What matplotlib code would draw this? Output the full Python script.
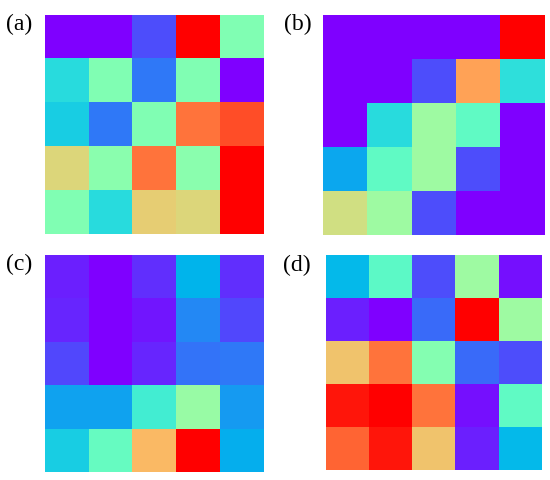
import numpy as np
import matplotlib
matplotlib.use("Agg")
import matplotlib.pyplot as plt

panel_labels = ["(a)", "(b)", "(c)", "(d)"]

grid_a = [
    [0.00, 0.00, 0.10, 1.00, 0.50],
    [0.33, 0.50, 0.16, 0.50, 0.00],
    [0.30, 0.16, 0.50, 0.85, 0.90],
    [0.68, 0.52, 0.85, 0.52, 1.00],
    [0.50, 0.33, 0.70, 0.68, 1.00],
]
grid_b = [
    [0.00, 0.00, 0.00, 0.00, 1.00],
    [0.00, 0.00, 0.10, 0.78, 0.34],
    [0.00, 0.33, 0.56, 0.44, 0.00],
    [0.23, 0.44, 0.56, 0.10, 0.00],
    [0.66, 0.56, 0.10, 0.00, 0.00],
]
grid_c = [
    [0.04, 0.00, 0.06, 0.25, 0.06],
    [0.05, 0.00, 0.03, 0.18, 0.09],
    [0.09, 0.00, 0.05, 0.15, 0.16],
    [0.22, 0.22, 0.38, 0.55, 0.21],
    [0.30, 0.45, 0.74, 1.00, 0.24],
]
grid_d = [
    [0.26, 0.43, 0.10, 0.56, 0.02],
    [0.04, 0.00, 0.14, 1.00, 0.56],
    [0.72, 0.85, 0.51, 0.14, 0.10],
    [0.97, 1.00, 0.85, 0.02, 0.44],
    [0.87, 0.97, 0.72, 0.04, 0.26],
]
grids = [grid_a, grid_b, grid_c, grid_d]

W, H = 550, 480
fig = plt.figure(figsize=(W / 100, H / 100), dpi=100)

# axes boxes in pixels: left, top, right, bottom
boxes = [
    (45, 15, 264, 234),
    (323, 15, 545, 235),
    (45, 255, 264, 472),
    (326, 255, 542, 470),
]
label_pos = [(6, 24), (284, 24), (6, 264), (283, 265)]

for grid, box, lab, lp in zip(grids, boxes, panel_labels, label_pos):
    l, t, r, b = box
    ax = fig.add_axes([l / W, 1 - b / H, (r - l) / W, (b - t) / H])
    ax.imshow(np.array(grid), cmap="rainbow", vmin=0, vmax=1,
              aspect="auto", interpolation="nearest")
    ax.set_xticks([])
    ax.set_yticks([])
    for s in ax.spines.values():
        s.set_visible(False)
    fig.text(lp[0] / W, 1 - lp[1] / H, lab, fontsize=17,
             family="Liberation Serif", ha="left", va="center")

fig.savefig("out.png", dpi=100)
